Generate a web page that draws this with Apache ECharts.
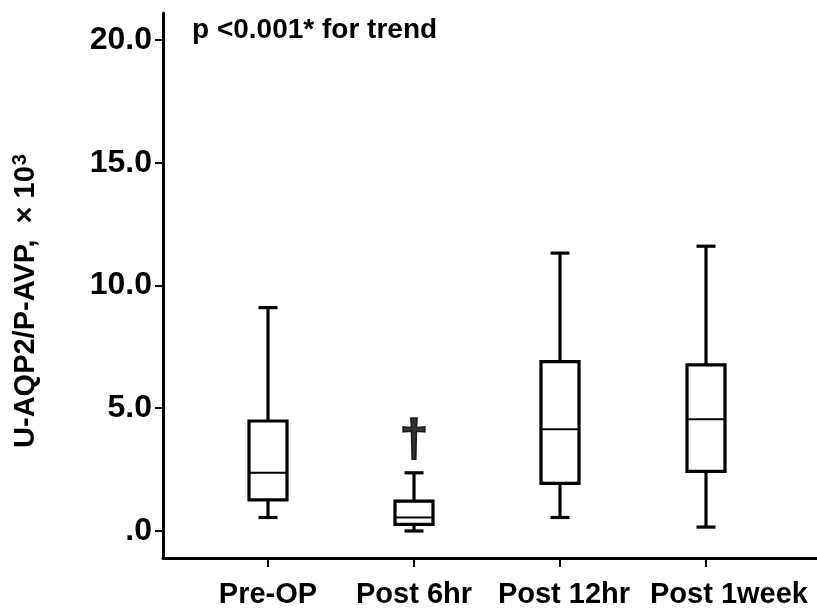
<!DOCTYPE html>
<html>
<head>
<meta charset="utf-8">
<script src="https://cdn.jsdelivr.net/npm/echarts@6/dist/echarts.min.js"></script>
<style>
  html, body { margin: 0; padding: 0; background: #fff; }
  #chart { width: 817px; height: 614px; }
</style>
</head>
<body>
<div id="chart"></div>
<script>
// 组别
const categories = ['Pre-OP', 'Post 6hr', 'Post 12hr', 'Post 1week'];
// 箱线数据: [low, q1, median, q3, high]
const lowValues    = [0.55, 0.00, 0.55, 0.16];
const q1Values     = [1.27, 0.27, 1.94, 2.43];
const medianValues = [2.37, 0.55, 4.14, 4.55];
const q3Values     = [4.48, 1.22, 6.90, 6.77];
const highValues   = [9.10, 2.37, 11.32, 11.60];
// y轴刻度
const tickValues = [0, 5, 10, 15, 20];
const tickLabels = ['.0', '5.0', '10.0', '15.0', '20.0'];
// 显著性标记
const daggerIndex = 1;
const daggerValue = 3.62;

const FONT = 'Liberation Sans, Arial, sans-serif';
const Y_MIN = -1.1, Y_MAX = 21.1;
const GRID_TOP = 13, GRID_BOTTOM = 56;

const boxData = categories.map(function (c, i) {
    return [i, lowValues[i], q1Values[i], medianValues[i], q3Values[i], highValues[i]];
});

function renderBox(params, api) {
    const idx = api.value(0);
    const low = api.coord([idx, api.value(1)]);
    const q1 = api.coord([idx, api.value(2)]);
    const med = api.coord([idx, api.value(3)]);
    const q3 = api.coord([idx, api.value(4)]);
    const high = api.coord([idx, api.value(5)]);
    const x = low[0];
    const half = 19;     // 箱体半宽
    const cap = 9.5;     // 须线端半宽
    const line = {stroke: '#000', lineWidth: 3.2, fill: null};
    return {
        type: 'group',
        children: [
            {type: 'line', shape: {x1: x, y1: high[1], x2: x, y2: q3[1]}, style: line},
            {type: 'line', shape: {x1: x, y1: q1[1], x2: x, y2: low[1]}, style: line},
            {type: 'line', shape: {x1: x - cap, y1: high[1], x2: x + cap, y2: high[1]}, style: line},
            {type: 'line', shape: {x1: x - cap, y1: low[1], x2: x + cap, y2: low[1]}, style: line},
            {type: 'rect', shape: {x: x - half, y: q3[1], width: half * 2, height: q1[1] - q3[1]},
                style: {stroke: '#000', lineWidth: 3.2, fill: '#fff'}},
            {type: 'line', shape: {x1: x - half, y1: med[1], x2: x + half, y2: med[1]},
                style: {stroke: '#000', lineWidth: 2}}
        ]
    };
}

const chart = echarts.init(document.getElementById('chart'));
const option = {
    animation: false,
    backgroundColor: '#fff',
    title: {
        text: 'p <0.001* for trend',
        left: 187,
        top: 11,
        textStyle: {fontFamily: FONT, fontSize: 28, fontWeight: 'bold', color: '#000'}
    },
    grid: [
        {left: 195, right: 38, top: GRID_TOP, bottom: GRID_BOTTOM},
        {left: 163, right: 0, top: GRID_TOP, bottom: GRID_BOTTOM}
    ],
    xAxis: [
        {
            type: 'category',
            gridIndex: 0,
            data: categories,
            axisLine: {show: false, onZero: false},
            axisTick: {show: true, alignWithLabel: true, length: 9, lineStyle: {color: '#000', width: 2}},
            axisLabel: {
                interval: 0,
                margin: 22,
                color: '#000',
                fontFamily: FONT,
                fontSize: 29,
                fontWeight: 'bold',
                formatter: function (v, i) {
                    // 原图中后两个标签略向右偏
                    if (i === categories.length - 1) return '{last|' + v + '}';
                    if (i === 2) return '{third|' + v + '}';
                    return v;
                },
                rich: {
                    last: {fontFamily: FONT, fontSize: 29, fontWeight: 'bold', color: '#000', padding: [0, 0, 0, 46]},
                    third: {fontFamily: FONT, fontSize: 29, fontWeight: 'bold', color: '#000', padding: [0, 0, 0, 8]}
                }
            },
            splitLine: {show: false}
        },
        {
            type: 'value',
            gridIndex: 1,
            min: 0,
            max: 1,
            axisLine: {show: true, onZero: false, lineStyle: {color: '#000', width: 3}},
            axisTick: {show: false},
            axisLabel: {show: false},
            splitLine: {show: false}
        }
    ],
    yAxis: [
        {
            type: 'value',
            gridIndex: 0,
            min: Y_MIN,
            max: Y_MAX,
            show: false
        },
        {
            type: 'value',
            gridIndex: 1,
            min: Y_MIN,
            max: Y_MAX,
            name: '{a|U-AQP2/P-AVP,  × 10}{sup|3}',
            nameLocation: 'middle',
            nameGap: 121,
            nameTextStyle: {
                color: '#000',
                fontFamily: FONT,
                fontSize: 29,
                fontWeight: 'bold',
                padding: [0, 31, 0, 0],
                rich: {
                    a: {fontFamily: FONT, fontSize: 29, fontWeight: 'bold', color: '#000', lineHeight: 32},
                    sup: {fontFamily: FONT, fontSize: 20, fontWeight: 'bold', color: '#000',
                        verticalAlign: 'top', lineHeight: 20, padding: [0, 0, 8, 1]}
                }
            },
            axisLine: {show: true, onZero: false, lineStyle: {color: '#000', width: 3}},
            axisTick: {
                show: true,
                length: 8,
                customValues: tickValues,
                lineStyle: {color: '#000', width: 2}
            },
            axisLabel: {
                margin: 11,
                color: '#000',
                fontFamily: FONT,
                fontSize: 32,
                fontWeight: 'bold',
                customValues: tickValues,
                formatter: function (v) {
                    const i = tickValues.indexOf(v);
                    return i >= 0 ? tickLabels[i] : '';
                }
            },
            splitLine: {show: false}
        }
    ],
    series: [
        {
            type: 'custom',
            xAxisIndex: 0,
            yAxisIndex: 0,
            renderItem: renderBox,
            encode: {x: 0, y: [1, 2, 3, 4, 5]},
            data: boxData
        },
        {
            type: 'scatter',
            xAxisIndex: 0,
            yAxisIndex: 0,
            symbolSize: 0,
            label: {
                show: true,
                position: 'inside',
                formatter: '†',
                color: '#000',
                fontFamily: FONT,
                fontSize: 52,
                fontWeight: 'bold',
                textBorderColor: '#000',
                textBorderWidth: 1.5
            },
            data: [[daggerIndex, daggerValue]]
        }
    ]
};
chart.setOption(option);
</script>
</body>
</html>
